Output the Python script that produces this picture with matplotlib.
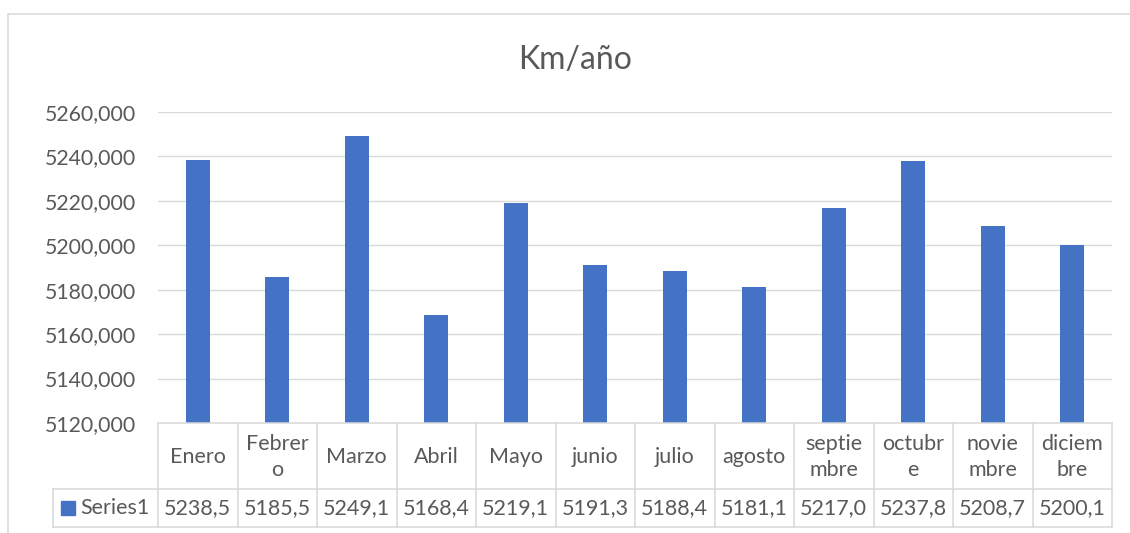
import matplotlib
matplotlib.use("Agg")
import matplotlib.pyplot as plt
from matplotlib.transforms import blended_transform_factory
from matplotlib.patches import Rectangle

title = "Km/año"
categories = ["Enero", "Febrer\no", "Marzo", "Abril", "Mayo", "junio", "julio",
              "agosto", "septie\nmbre", "octubr\ne", "novie\nmbre", "diciem\nbre"]
series_name = "Series1"
values = [5238.5, 5185.5, 5249.1, 5168.4, 5219.1, 5191.3, 5188.4,
          5181.1, 5217.0, 5237.8, 5208.7, 5200.1]
y_ticks = [5120, 5140, 5160, 5180, 5200, 5220, 5240, 5260]

W, H = 1130, 533
BAR = "#4472C4"
GRID = "#D9D9D9"
TXT = "#595959"
FONT = "Lato"

plt.rcParams['font.family'] = [FONT, 'DejaVu Sans']

fig = plt.figure(figsize=(W / 100, H / 100), dpi=100)

def fx(px):
    return px / W

def fy(py):
    return 1 - py / H

L, R, T, B = 158, 1112, 112, 423
ax = fig.add_axes([fx(L), fy(B), fx(R) - fx(L), fy(T) - fy(B)])

x = list(range(len(categories)))
ax.bar(x, values, width=0.30, color=BAR, zorder=3)
ax.set_xlim(-0.5, len(categories) - 0.5)
ax.set_ylim(y_ticks[0], y_ticks[-1])
ax.set_yticks(y_ticks)
ax.set_yticklabels([f"{v:.3f}".replace(".", ",") for v in y_ticks],
                   fontsize=15.3, color=TXT)
ax.tick_params(axis="y", length=0, pad=16)
ax.set_xticks([])
ax.grid(axis="y", color=GRID, linewidth=1.0, zorder=0)
for s in ax.spines.values():
    s.set_visible(False)

# chart border
fig.patches.append(Rectangle((fx(8), fy(560)), fx(1140) - fx(8), fy(14) - fy(560),
                             transform=fig.transFigure, fill=False,
                             edgecolor=GRID, linewidth=1.1))

# title
fig.text(fx(575), fy(60), title, ha="center", va="center", fontsize=23, color=TXT)

# data table
tr = blended_transform_factory(ax.transData, fig.transFigure)
row1_top, row1_bot, row2_bot = 423, 489, 527
lw = 1.1
xmin, xmax = -0.5, len(categories) - 0.5
ax.plot([xmin, xmax], [fy(row1_top)] * 2, transform=tr, color=GRID, lw=lw, clip_on=False, zorder=4)
for yy in (row1_bot, row2_bot):
    fig.add_artist(plt.Line2D([fx(53), fx(R)], [fy(yy)] * 2, transform=fig.transFigure,
                              color=GRID, lw=lw))
for i in range(len(categories) + 1):
    ax.plot([i - 0.5, i - 0.5], [fy(row1_top), fy(row2_bot)], transform=tr,
            color=GRID, lw=lw, clip_on=False)
fig.add_artist(plt.Line2D([fx(53), fx(53)], [fy(row1_bot), fy(row2_bot)],
                          transform=fig.transFigure, color=GRID, lw=lw))

for i, (c, v) in enumerate(zip(categories, values)):
    ax.text(i, fy((row1_top + row1_bot) / 2 + 1), c, transform=tr, ha="center", va="center",
            fontsize=15.5, color=TXT, linespacing=1.35)
    ax.text(i, fy((row1_bot + row2_bot) / 2), f"{v:.1f}".replace(".", ","), transform=tr,
            ha="center", va="center", fontsize=15.5, color=TXT)

fig.patches.append(Rectangle((fx(61), fy(515)), fx(75) - fx(61), fy(501) - fy(515),
                             transform=fig.transFigure, color=BAR))
fig.text(fx(80), fy((row1_bot + row2_bot) / 2), series_name, ha="left", va="center",
         fontsize=15.5, color=TXT)

fig.savefig("out.png", dpi=100)
